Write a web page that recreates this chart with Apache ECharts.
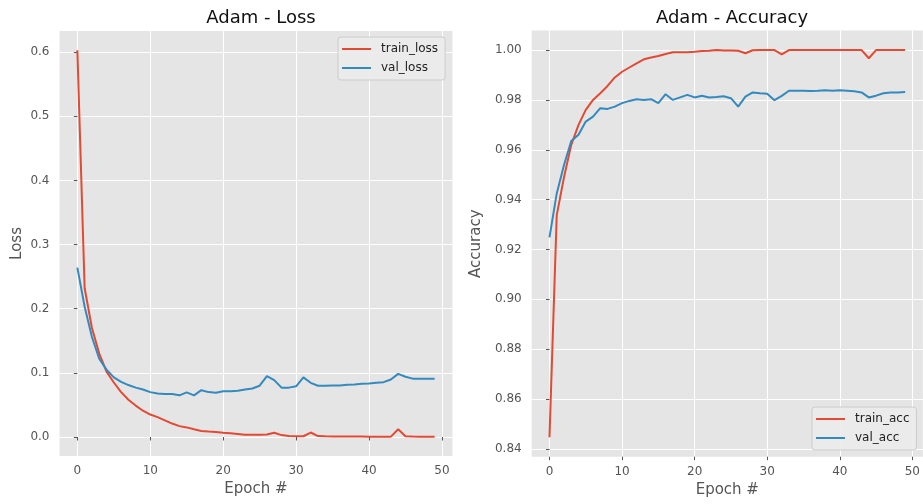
<!DOCTYPE html>
<html>
<head>
<meta charset="utf-8">
<script src="https://cdn.jsdelivr.net/npm/echarts@6/dist/echarts.min.js"></script>
<style>html,body{margin:0;padding:0;background:#fff}#c{width:923px;height:504px}</style>
</head>
<body>
<div id="c"></div>
<script>
const epochs = Array.from({length: 50}, (_, i) => i);
const trainLoss = [0.603, 0.232, 0.17, 0.13, 0.102, 0.085, 0.070, 0.058, 0.049, 0.041, 0.035, 0.031, 0.026, 0.021, 0.017, 0.015, 0.012, 0.0095, 0.0085, 0.008, 0.0067, 0.0057, 0.0047, 0.0035, 0.0035, 0.0035, 0.0038, 0.0067, 0.003, 0.0015, 0.0012, 0.0012, 0.007, 0.0015, 0.001, 0.0008, 0.0008, 0.0008, 0.0007, 0.0007, 0.0006, 0.0006, 0.0006, 0.0006, 0.012, 0.0012, 0.0007, 0.0006, 0.0006, 0.0006];
const valLoss = [0.264, 0.203, 0.156, 0.122, 0.105, 0.093, 0.086, 0.081, 0.077, 0.074, 0.070, 0.068, 0.067, 0.067, 0.065, 0.0695, 0.065, 0.073, 0.070, 0.069, 0.0715, 0.0715, 0.072, 0.074, 0.0757, 0.080, 0.095, 0.0887, 0.077, 0.077, 0.079, 0.093, 0.0845, 0.080, 0.080, 0.0805, 0.0805, 0.0815, 0.082, 0.083, 0.0835, 0.0845, 0.0855, 0.0897, 0.0985, 0.094, 0.091, 0.091, 0.091, 0.091];
const trainAcc = [0.8447, 0.9338, 0.949, 0.962, 0.970, 0.976, 0.980, 0.9827, 0.9856, 0.989, 0.9913, 0.993, 0.9947, 0.9963, 0.997, 0.9976, 0.9984, 0.9991, 0.9991, 0.9991, 0.9993, 0.9996, 0.9997, 1.0, 0.9998, 0.9998, 0.9997, 0.9987, 0.9999, 1.0, 1.0, 1.0, 0.9983, 1.0, 1.0, 1.0, 1.0, 1.0, 1.0, 1.0, 1.0, 1.0, 1.0, 1.0, 0.9967, 1.0, 1.0, 1.0, 1.0, 1.0];
const valAcc = [0.9249, 0.9425, 0.9539, 0.9635, 0.966, 0.9713, 0.9733, 0.9767, 0.9764, 0.9773, 0.9787, 0.9796, 0.9803, 0.980, 0.9803, 0.9787, 0.9823, 0.980, 0.981, 0.982, 0.981, 0.9817, 0.981, 0.9812, 0.9815, 0.9807, 0.9773, 0.9813, 0.983, 0.9827, 0.9825, 0.9799, 0.9816, 0.9837, 0.9837, 0.9837, 0.9836, 0.9837, 0.9839, 0.9837, 0.9839, 0.9837, 0.9835, 0.983, 0.981, 0.9817, 0.9827, 0.983, 0.983, 0.9832];
const xTicks = [0, 10, 20, 30, 40, 50];
const lossTicks = [0.0, 0.1, 0.2, 0.3, 0.4, 0.5, 0.6];
const accTicks = [0.84, 0.86, 0.88, 0.90, 0.92, 0.94, 0.96, 0.98, 1.00];

const FONT = 'DejaVu Sans';
const RED = '#E24A33', BLUE = '#348ABD';
const pair = arr => epochs.map((e, i) => [e, arr[i]]);

function xAxis(gi) {
  return {
    type: 'value', gridIndex: gi, min: -2.45, max: 51.45,
    name: 'Epoch #', nameLocation: 'middle', nameGap: 25,
    nameTextStyle: {fontFamily: FONT, fontSize: 15, color: '#555'},
    axisLine: {show: false},
    axisTick: {show: true, length: 3.5, lineStyle: {color: '#555', width: 1}, customValues: xTicks},
    axisLabel: {fontFamily: FONT, fontSize: 12, color: '#555', margin: 9, customValues: xTicks, formatter: v => String(v)},
    splitLine: {show: true, lineStyle: {color: '#fff', width: 1}}
  };
}
function yAxis(gi, min, max, ticks, name, gap, dec) {
  return {
    type: 'value', gridIndex: gi, min: min, max: max,
    name: name, nameLocation: 'middle', nameGap: gap,
    nameTextStyle: {fontFamily: FONT, fontSize: 15, color: '#555'},
    axisLine: {show: false},
    axisTick: {show: true, length: 3.5, lineStyle: {color: '#555', width: 1}, customValues: ticks},
    axisLabel: {fontFamily: FONT, fontSize: 12, color: '#555', margin: 10, customValues: ticks, formatter: v => Number(v).toFixed(dec)},
    splitLine: {show: true, lineStyle: {color: '#fff', width: 1}}
  };
}
function line(name, data, color, xi) {
  return {
    name: name, type: 'line', xAxisIndex: xi, yAxisIndex: xi, data: data,
    symbol: 'none', smooth: false, lineStyle: {color: color, width: 2}, itemStyle: {color: color},
    animation: false
  };
}
function legend(data, left, top) {
  return {
    data: data.map(n => ({name: n, icon: 'rect'})), left: left, top: top, orient: 'vertical',
    backgroundColor: 'rgba(235,235,235,0.9)', borderColor: '#ccc', borderWidth: 1, borderRadius: 3,
    padding: [5, 7, 5, 4], itemGap: 5, itemWidth: 29, itemHeight: 2,
    textStyle: {fontFamily: FONT, fontSize: 12, color: '#222', lineHeight: 14, padding: [0, 0, 0, 5]}
  };
}

const chart = echarts.init(document.getElementById('c'), null, {renderer: 'canvas'});
chart.setOption({
  animation: false,
  backgroundColor: '#fff',
  title: [
    {text: 'Adam - Loss', left: 256, top: 4, textAlign: 'center', textStyle: {fontFamily: FONT, fontSize: 18, fontWeight: 'normal', color: '#111'}},
    {text: 'Adam - Accuracy', left: 727, top: 4, textAlign: 'center', textStyle: {fontFamily: FONT, fontSize: 18, fontWeight: 'normal', color: '#111'}}
  ],
  grid: [
    {left: 59.5, width: 393, top: 31, bottom: 48, show: true, backgroundColor: '#E5E5E5', borderWidth: 0},
    {left: 531.7, width: 391.5, top: 30.6, bottom: 47.3, show: true, backgroundColor: '#E5E5E5', borderWidth: 0}
  ],
  xAxis: [xAxis(0), xAxis(1)],
  yAxis: [
    yAxis(0, -0.0296, 0.633, lossTicks, 'Loss', 35, 1),
    yAxis(1, 0.8369, 1.0078, accTicks, 'Accuracy', 48, 2)
  ],
  legend: [
    legend(['train_loss', 'val_loss'], 338, 37),
    legend(['train_acc', 'val_acc'], 812, 407)
  ],
  series: [
    line('train_loss', pair(trainLoss), RED, 0),
    line('val_loss', pair(valLoss), BLUE, 0),
    line('train_acc', pair(trainAcc), RED, 1),
    line('val_acc', pair(valAcc), BLUE, 1)
  ]
});
</script>
</body>
</html>
